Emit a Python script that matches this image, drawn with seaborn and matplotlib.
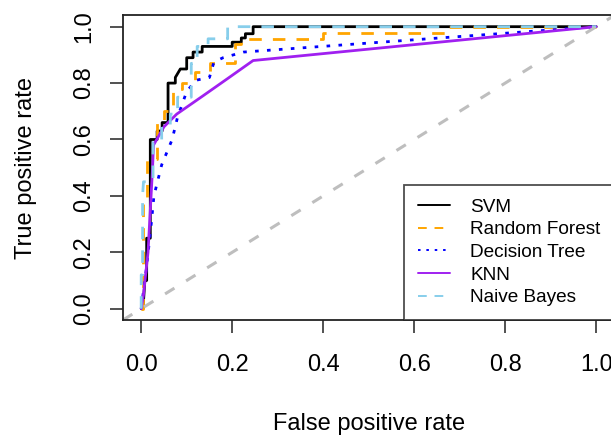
import matplotlib
matplotlib.use('Agg')
import matplotlib.pyplot as plt
import seaborn as sns
import pandas as pd

# ROC curve points (false positive rate, true positive rate)
svm_fpr = [0, 0.004, 0.008, 0.012, 0.012, 0.02, 0.02, 0.035, 0.035, 0.046, 0.046, 0.059, 0.059, 0.075, 0.075, 0.086,
           0.10, 0.10, 0.114, 0.114, 0.134, 0.134, 0.2, 0.2, 0.22, 0.22, 0.229, 0.229, 0.246, 0.246, 1.0]
svm_tpr = [0, 0, 0.1, 0.1, 0.25, 0.25, 0.6, 0.6, 0.63, 0.63, 0.66, 0.66, 0.8, 0.8, 0.82, 0.85,
           0.85, 0.89, 0.89, 0.91, 0.91, 0.93, 0.93, 0.945, 0.945, 0.96, 0.96, 0.975, 0.975, 1.0, 1.0]

rf_fpr = [0, 0.003, 0.003, 0.005, 0.005, 0.013, 0.013, 0.035, 0.035, 0.05, 0.05, 0.07, 0.07, 0.09, 0.09,
          0.119, 0.119, 0.152, 0.152, 0.207, 0.207, 0.22, 0.22, 0.4, 0.4, 0.67, 0.67, 1.0]
rf_tpr = [0, 0, 0.2, 0.2, 0.37, 0.37, 0.53, 0.53, 0.67, 0.67, 0.70, 0.70, 0.78, 0.78, 0.80,
          0.80, 0.84, 0.84, 0.87, 0.87, 0.94, 0.94, 0.957, 0.957, 0.978, 0.978, 1.0, 1.0]

dt_fpr = [0, 0.012, 0.022, 0.028, 0.045, 0.068, 0.08, 0.10, 0.12, 0.15, 0.16, 0.18, 0.225, 1.0]
dt_tpr = [0, 0.15, 0.30, 0.40, 0.51, 0.60, 0.68, 0.77, 0.81, 0.82, 0.875, 0.89, 0.91, 1.0]

knn_fpr = [0, 0.005, 0.015, 0.02, 0.025, 0.027, 0.05, 0.078, 0.136, 0.189, 0.246, 1.0]
knn_tpr = [0, 0.05, 0.20, 0.35, 0.50, 0.58, 0.645, 0.69, 0.755, 0.815, 0.88, 1.0]

nb_fpr = [0, 0, 0.003, 0.003, 0.005, 0.026, 0.026, 0.045, 0.045, 0.064, 0.064, 0.08, 0.08, 0.11, 0.11,
          0.123, 0.123, 0.147, 0.147, 0.19, 0.19, 1.0]
nb_tpr = [0, 0.12, 0.12, 0.40, 0.45, 0.45, 0.59, 0.59, 0.65, 0.65, 0.69, 0.69, 0.75, 0.75, 0.87,
          0.87, 0.93, 0.93, 0.957, 0.957, 1.0, 1.0]

models = ['SVM', 'Random Forest', 'Decision Tree', 'KNN', 'Naive Bayes']
curves = {'SVM': (svm_fpr, svm_tpr), 'Random Forest': (rf_fpr, rf_tpr), 'Decision Tree': (dt_fpr, dt_tpr),
          'KNN': (knn_fpr, knn_tpr), 'Naive Bayes': (nb_fpr, nb_tpr)}
colors = {'SVM': 'black', 'Random Forest': '#FFA500', 'Decision Tree': '#0000FF',
          'KNN': '#A020F0', 'Naive Bayes': '#87CEEB'}
styles = {'SVM': '-', 'Random Forest': (0, (4.5, 4)), 'Decision Tree': (0, (1.3, 3)),
          'KNN': '-', 'Naive Bayes': (0, (4.5, 4))}

sns.set_style('white')
plt.rcParams['font.family'] = ['Liberation Sans', 'DejaVu Sans']
plt.rcParams['text.color'] = 'black'
plt.rcParams['axes.labelcolor'] = 'black'
plt.rcParams['xtick.color'] = 'black'
plt.rcParams['ytick.color'] = 'black'

fig = plt.figure(figsize=(6.11, 4.37), dpi=100)
ax = fig.add_axes([123 / 611, 117 / 437, 491.4 / 611, 304.6 / 437])

for m in models:
    fpr, tpr = curves[m]
    df = pd.DataFrame({'fpr': fpr, 'tpr': tpr})
    sns.lineplot(data=df, x='fpr', y='tpr', sort=False, estimator=None, color=colors[m],
                 linestyle=styles[m], lw=2, label=m, ax=ax)

# chance line
ax.axline((0, 0), (1, 1), color='#BEBEBE', lw=2.2, linestyle=(0, (3.6, 4.5)))

ax.set_xlim(-0.04, 1.04)
ax.set_ylim(-0.04, 1.04)
ticks = [0.0, 0.2, 0.4, 0.6, 0.8, 1.0]
ax.set_xticks(ticks)
ax.set_yticks(ticks)
ax.set_xticklabels(['%.1f' % t for t in ticks])
ax.set_yticklabels(['%.1f' % t for t in ticks], rotation=90, va='center')

for s in ax.spines.values():
    s.set_color('#222222')
    s.set_linewidth(1.3)
ax.tick_params(axis='both', which='major', direction='out', length=9.4, width=1.1, color='#222222',
               labelsize=17, labelcolor='black', bottom=True, left=True)
ax.tick_params(axis='x', pad=15)
ax.tick_params(axis='y', pad=10.5)

ax.set_xlabel('False positive rate', fontsize=17, color='black')
ax.set_ylabel('True positive rate', fontsize=17, color='black')
ax.xaxis.set_label_coords(0.5, -0.304)
ax.yaxis.set_label_coords(-0.175, 0.5)

leg = ax.legend(loc='lower right', borderaxespad=0, fontsize=13.7, frameon=True, fancybox=False,
                handlelength=1.7, handletextpad=1.05, labelspacing=0.28, borderpad=0.72)
leg.get_frame().set_edgecolor('#222222')
leg.get_frame().set_linewidth(1.3)
for line in leg.get_lines():
    line.set_linewidth(1.4)
for t in leg.get_texts():
    t.set_color('black')

fig.savefig('out.png', dpi=100)
